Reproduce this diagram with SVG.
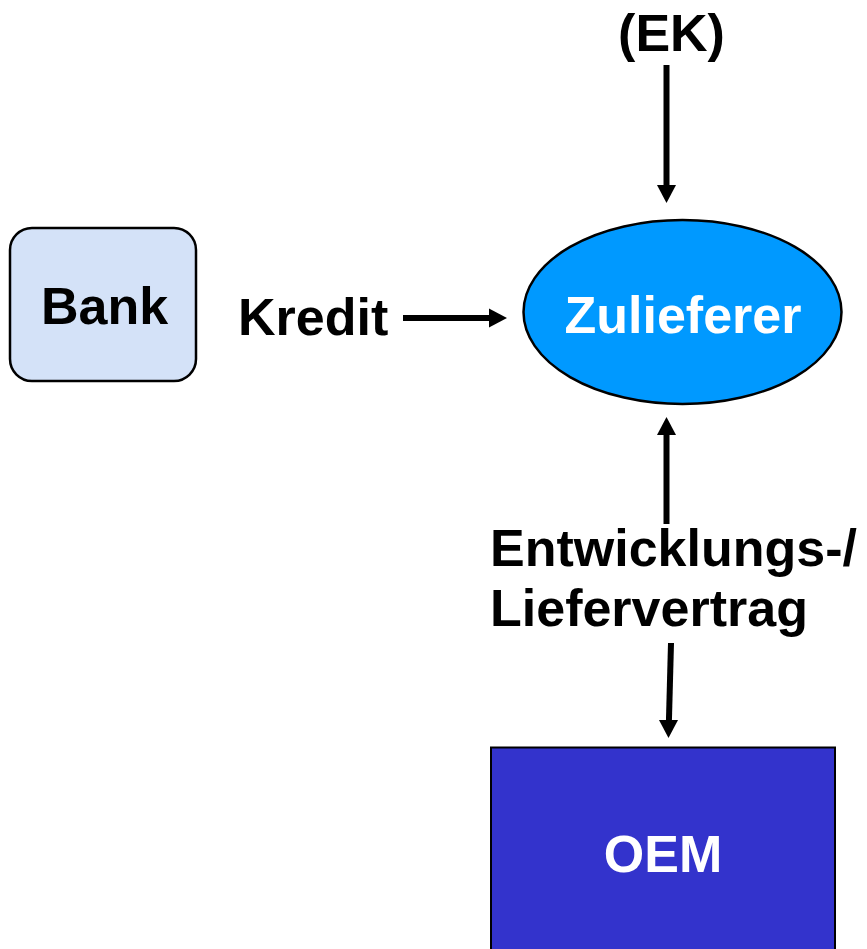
<svg xmlns="http://www.w3.org/2000/svg" width="867" height="949" viewBox="0 0 867 949">
  <style>
    .lbl { font-family: "Liberation Sans", Arial, sans-serif; font-weight: bold; font-size: 52px; }
    .dark { fill: #000000; }
    .light { fill: #ffffff; }
    .shaft { stroke: #000000; stroke-width: 6; fill: none; }
    .tip { fill: #000000; }
  </style>
  <rect width="867" height="949" fill="#ffffff"/>

  <!-- connectors: shaft ends at the base of its arrowhead -->
  <g id="connectors">
    <line class="shaft" x1="666.5" y1="65" x2="666.5" y2="187"/>
    <polygon class="tip" points="657,185 676,185 666.5,203"/>

    <line class="shaft" x1="403" y1="318" x2="491" y2="318"/>
    <polygon class="tip" points="489,308.5 489,327.5 507,318"/>

    <line class="shaft" x1="666.5" y1="524" x2="666.5" y2="433"/>
    <polygon class="tip" points="657,435 676,435 666.5,417"/>

    <line class="shaft" x1="671" y1="643" x2="668.9" y2="722"/>
    <polygon class="tip" points="659,720 678,720 668.5,738"/>
  </g>

  <!-- edge labels -->
  <g id="labels">
    <text class="lbl dark" x="671.5" y="51" text-anchor="middle">(EK)</text>
    <text class="lbl dark" x="238" y="335">Kredit</text>
    <text class="lbl dark" x="490" y="566">Entwicklungs-/</text>
    <text class="lbl dark" x="490" y="626">Liefervertrag</text>
  </g>

  <!-- Bank -->
  <g id="bank">
    <rect x="10" y="228" width="186" height="153" rx="22" ry="22" fill="#d4e2f8" stroke="#000000" stroke-width="2.5"/>
    <text class="lbl dark" x="104.5" y="324" text-anchor="middle">Bank</text>
  </g>

  <!-- Zulieferer -->
  <g id="zulieferer">
    <ellipse cx="682.5" cy="312" rx="159" ry="92" fill="#0099ff" stroke="#000000" stroke-width="2.5"/>
    <text class="lbl light" x="683" y="333" text-anchor="middle">Zulieferer</text>
  </g>

  <!-- OEM -->
  <g id="oem">
    <rect x="491" y="747.5" width="344" height="215" fill="#3333cc" stroke="#000000" stroke-width="2"/>
    <text class="lbl light" x="663" y="872" text-anchor="middle">OEM</text>
  </g>
</svg>
